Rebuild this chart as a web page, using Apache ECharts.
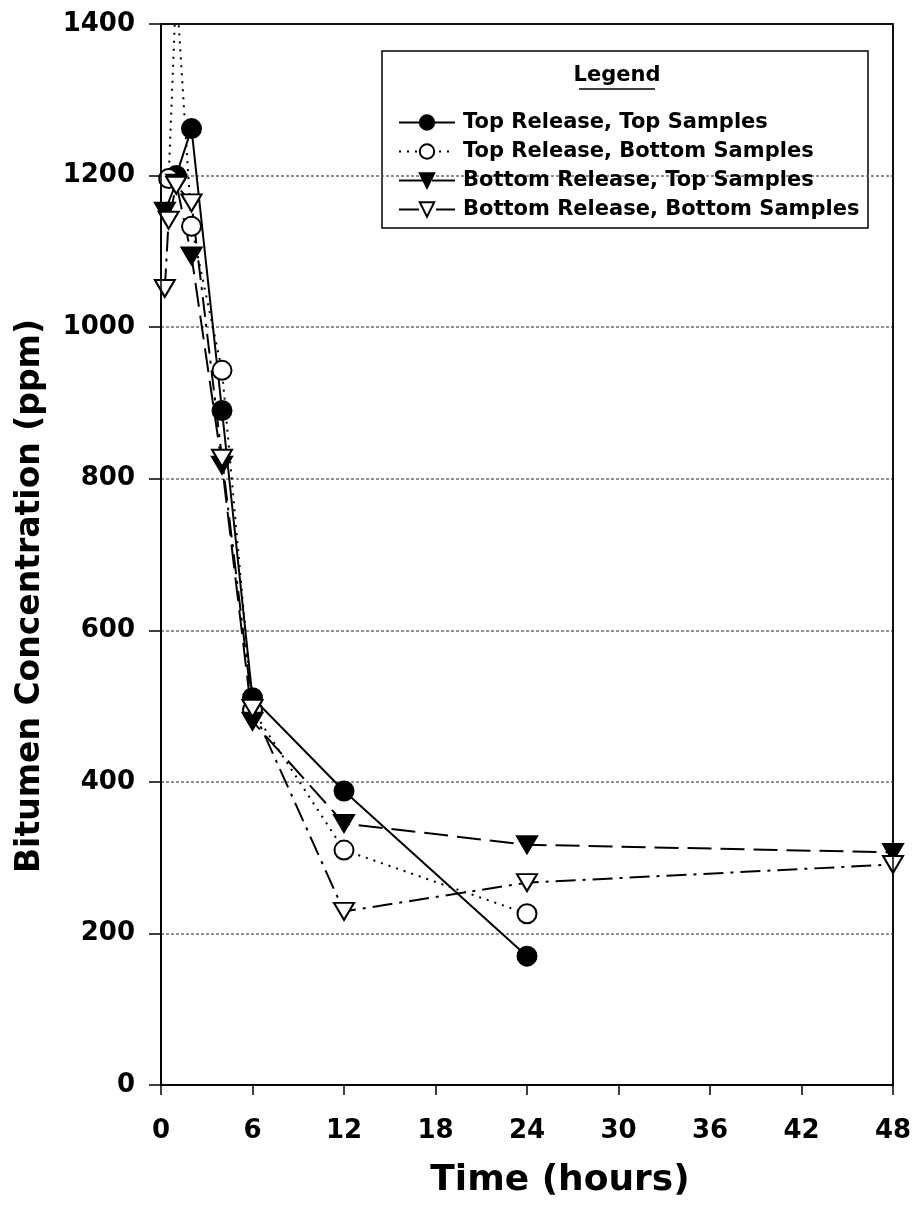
<!DOCTYPE html>
<html>
<head>
<meta charset="utf-8">
<script src="https://cdn.jsdelivr.net/npm/echarts@6/dist/echarts.min.js"></script>
<style>
  html, body { margin: 0; padding: 0; background: #fff; }
  #chart { width: 917px; height: 1207px; }
</style>
</head>
<body>
<div id="chart"></div>
<script>
// Sampling times (hours) and bitumen concentrations (ppm) for each release/sample case
const trtsTimes = [1, 2, 4, 6, 12, 24];
const trtsValues = [1200, 1262, 890, 511, 388, 170];

const trbsTimes = [0.5, 1, 2, 4, 6, 12, 24];
const trbsValues = [1196, 1450, 1133, 943, 495, 310, 226];

const brtsTimes = [0.25, 1, 2, 4, 6, 12, 24, 48];
const brtsValues = [1153, 1190, 1094, 818, 480, 345, 317, 307];

const brbsTimes = [0.25, 0.5, 1, 2, 4, 6, 12, 24, 48];
const brbsValues = [1051, 1141, 1187, 1164, 827, 497, 229, 267, 291];

const seriesNames = [
  'Top Release, Top Samples',
  'Top Release, Bottom Samples',
  'Bottom Release, Top Samples',
  'Bottom Release, Bottom Samples'
];

const xTicks = [0, 6, 12, 18, 24, 30, 36, 42, 48];
const yTicks = [0, 200, 400, 600, 800, 1000, 1200, 1400];

const xTitle = 'Time (hours)';
const yTitle = 'Bitumen Concentration (ppm)';
const legendTitle = 'Legend';

const pairs = (ts, vs) => ts.map((t, i) => [t, vs[i]]);

const FONT = '"DejaVu Sans", Verdana, sans-serif';
const chart = echarts.init(document.getElementById('chart'), null, { renderer: 'canvas' });

const mk = (name, data, symbol, filled, lineType) => ({
  name,
  type: 'line',
  data,
  symbol,
  symbolRotate: symbol === 'triangle' ? 180 : 0,
  symbolSize: symbol === 'triangle' ? [20, 17] : 19,
  showSymbol: true,
  clip: true,
  lineStyle: { color: '#000', width: 2, type: lineType },
  itemStyle: { color: filled ? '#000' : '#fff', borderColor: '#000', borderWidth: 2, opacity: 1 },
  emphasis: { disabled: true },
  animation: false
});

chart.setOption({
  backgroundColor: '#fff',
  animation: false,
  grid: {
    left: 161, right: 24, top: 24, bottom: 122,
    show: true, borderColor: '#000', borderWidth: 1.5, backgroundColor: 'transparent'
  },
  xAxis: {
    type: 'value',
    min: xTicks[0], max: xTicks[xTicks.length - 1], interval: 6,
    axisLine: { lineStyle: { color: '#000', width: 1.5 } },
    axisTick: { show: true, length: 10, lineStyle: { color: '#000', width: 1.5 } },
    axisLabel: {
      fontFamily: FONT, fontWeight: 'bold', fontSize: 26, color: '#000', margin: 33,
      formatter: v => (xTicks.includes(v) ? String(v) : '')
    },
    splitLine: { show: false }
  },
  yAxis: {
    type: 'value',
    min: yTicks[0], max: yTicks[yTicks.length - 1], interval: 200,
    axisLine: { show: true, lineStyle: { color: '#000', width: 1.5 } },
    axisTick: { show: true, length: 12, lineStyle: { color: '#000', width: 1.5 } },
    axisLabel: {
      fontFamily: FONT, fontWeight: 'bold', fontSize: 26, color: '#000', margin: 26,
      formatter: v => (yTicks.includes(v) ? String(v) : '')
    },
    splitLine: {
      show: true, showMinLine: false, showMaxLine: false,
      lineStyle: { color: '#6e6e6e', width: 1.5, type: [3, 2] }
    }
  },
  legend: {
    orient: 'vertical',
    left: 393,
    top: 107,
    itemWidth: 56,
    itemHeight: 18,
    itemGap: 8,
    selectedMode: false,
    textStyle: { fontFamily: FONT, fontWeight: 'bold', fontSize: 21, lineHeight: 21, color: '#000', padding: [0, 0, 0, 3] },
    data: seriesNames
  },
  graphic: [
    {
      // plot frame drawn over the grid lines
      type: 'rect',
      shape: { x: 161, y: 24, width: 732, height: 1061 },
      style: { fill: 'none', stroke: '#000', lineWidth: 1.5 },
      silent: true,
      z: 5
    },
    {
      type: 'rect',
      shape: { x: 382, y: 51, width: 486, height: 177 },
      style: { fill: '#fff', stroke: '#000', lineWidth: 1.5 },
      z: 0
    },
    {
      type: 'text',
      x: 617, y: 76,
      style: {
        text: legendTitle, fontFamily: FONT, fontWeight: 'bold', fontSize: 21,
        fill: '#000', textAlign: 'center', textVerticalAlign: 'middle'
      },
      z: 10
    },
    {
      type: 'line',
      shape: { x1: 579, y1: 89, x2: 655, y2: 89 },
      style: { stroke: '#000', lineWidth: 1.5 },
      z: 10
    },
    {
      type: 'text',
      x: 560, y: 1181,
      style: {
        text: xTitle, fontFamily: FONT, fontWeight: 'bold', fontSize: 36,
        fill: '#000', textAlign: 'center', textVerticalAlign: 'middle'
      },
      z: 10
    },
    {
      type: 'text',
      x: 30, y: 596,
      rotation: Math.PI / 2,
      style: {
        text: yTitle, fontFamily: FONT, fontWeight: 'bold', fontSize: 33,
        fill: '#000', textAlign: 'center', textVerticalAlign: 'middle'
      },
      z: 10
    }
  ],
  series: [
    mk(seriesNames[0], pairs(trtsTimes, trtsValues), 'circle', true, 'solid'),
    mk(seriesNames[1], pairs(trbsTimes, trbsValues), 'circle', false, [2, 6]),
    mk(seriesNames[2], pairs(brtsTimes, brtsValues), 'triangle', true, [24, 9]),
    mk(seriesNames[3], pairs(brbsTimes, brbsValues), 'triangle', false, [20, 7, 3, 7])
  ]
});
</script>
</body>
</html>
